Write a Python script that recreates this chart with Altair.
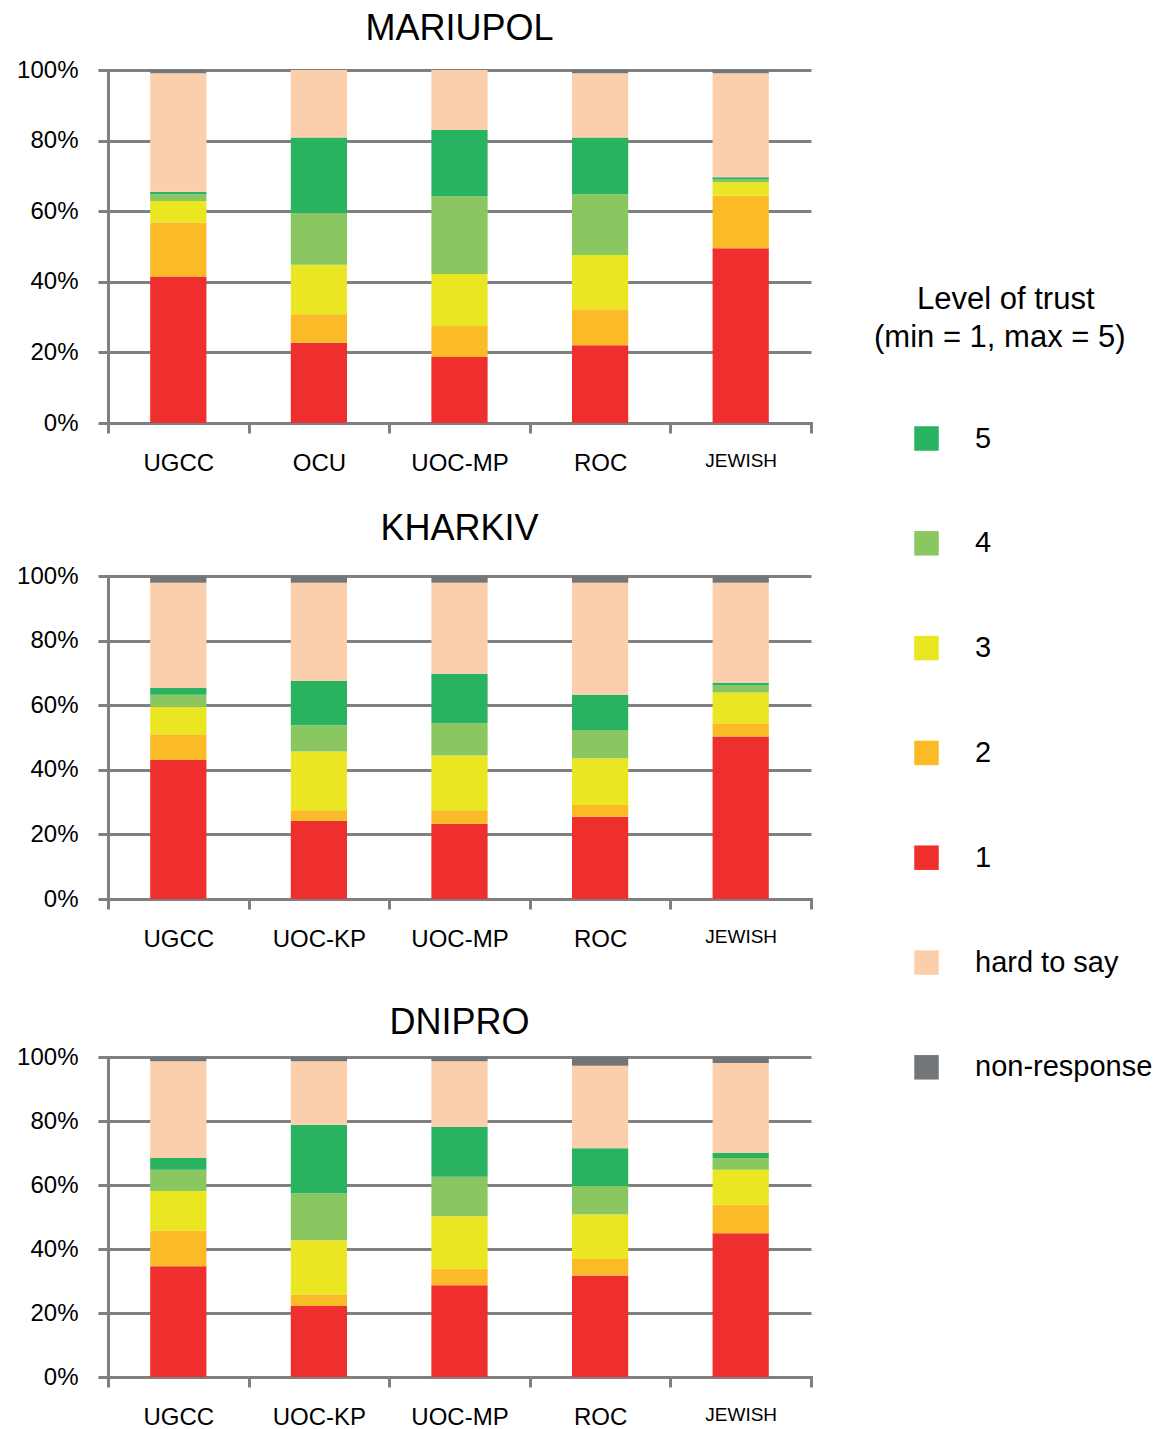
import altair as alt
import pandas as pd

# ---- data (percent) ----
levels = ["1", "2", "3", "4", "5", "hard to say", "non-response"]
legend_order = ["5", "4", "3", "2", "1", "hard to say", "non-response"]
legend_colors = ["#29B25F", "#8AC760", "#EAE622", "#FBBB26", "#EE2F2E", "#FBCFAC", "#737679"]

cities = ["MARIUPOL", "KHARKIV", "DNIPRO"]
mariupol_cats = ["UGCC", "OCU", "UOC-MP", "ROC", "JEWISH"]
kharkiv_cats = ["UGCC", "UOC-KP", "UOC-MP", "ROC", "JEWISH"]
dnipro_cats = ["UGCC", "UOC-KP", "UOC-MP", "ROC", "JEWISH"]

# each list: values per category, in the order of the category list
mariupol_1 = [41.5, 22.7, 18.7, 22.0, 49.5]
mariupol_2 = [15.3, 8.1, 8.8, 10.2, 14.9]
mariupol_3 = [6.1, 14.0, 14.7, 15.4, 3.8]
mariupol_4 = [1.9, 14.7, 22.0, 17.2, 0.8]
mariupol_5 = [0.7, 21.4, 18.8, 16.1, 0.6]
mariupol_hts = [33.6, 19.1, 17.0, 18.2, 29.5]
mariupol_nr = [0.9, 0.0, 0.0, 0.9, 0.9]

kharkiv_1 = [43.0, 24.2, 23.3, 25.5, 50.3]
kharkiv_2 = [8.0, 3.3, 4.2, 3.6, 4.1]
kharkiv_3 = [8.5, 18.2, 16.9, 14.5, 9.5]
kharkiv_4 = [3.7, 8.1, 10.0, 8.6, 2.2]
kharkiv_5 = [2.1, 13.8, 15.3, 11.0, 0.8]
kharkiv_hts = [32.6, 30.3, 28.2, 34.7, 31.0]
kharkiv_nr = [2.1, 2.1, 2.1, 2.1, 2.1]

dnipro_1 = [34.6, 22.2, 28.7, 31.7, 44.9]
dnipro_2 = [11.1, 3.6, 5.1, 5.2, 8.9]
dnipro_3 = [12.4, 16.9, 16.4, 13.9, 11.0]
dnipro_4 = [6.7, 14.7, 12.4, 8.9, 3.6]
dnipro_5 = [3.6, 21.4, 15.5, 11.8, 1.6]
dnipro_hts = [30.3, 19.9, 20.6, 25.8, 28.1]
dnipro_nr = [1.3, 1.3, 1.3, 2.7, 1.9]

y_ticks = [0, 20, 40, 60, 80, 100]

city_data = {
    "MARIUPOL": (mariupol_cats, [mariupol_1, mariupol_2, mariupol_3, mariupol_4, mariupol_5, mariupol_hts, mariupol_nr]),
    "KHARKIV": (kharkiv_cats, [kharkiv_1, kharkiv_2, kharkiv_3, kharkiv_4, kharkiv_5, kharkiv_hts, kharkiv_nr]),
    "DNIPRO": (dnipro_cats, [dnipro_1, dnipro_2, dnipro_3, dnipro_4, dnipro_5, dnipro_hts, dnipro_nr]),
}

FONT = "Liberation Sans"
GRID = "#808080"
heights = {"MARIUPOL": 353, "KHARKIV": 323, "DNIPRO": 320}
title_offsets = {"MARIUPOL": 10, "KHARKIV": 16, "DNIPRO": 3}
LEGEND_TITLE = ["\u200b" + "\u00a0" * 5 + "Level of trust", "(min = 1, max = 5)"]


def panel(city):
    cats, series = city_data[city]
    rows = []
    for li, (lvl, vals) in enumerate(zip(levels, series)):
        for c, v in zip(cats, vals):
            rows.append({"cat": c, "level": lvl, "ord": li, "value": v})
    df = pd.DataFrame(rows)
    return alt.Chart(df).mark_bar(width=alt.RelativeBandSize(0.4)).encode(
        x=alt.X("cat:N", sort=cats, title=None,
                scale=alt.Scale(paddingInner=0, paddingOuter=0),
                axis=alt.Axis(labelAngle=0, tickBand="extent", tickSize=10,
                              tickColor=GRID, tickWidth=3, domainColor=GRID,
                              domainWidth=3, labelPadding=18, labelColor="black",
                              labelFont=FONT,
                              labelFontSize={"condition": {"test": "datum.value == 'JEWISH'", "value": 19}, "value": 24},
                              grid=False)),
        y=alt.Y("value:Q", stack="zero", title=None,
                scale=alt.Scale(domain=[0, 100], nice=False),
                axis=alt.Axis(values=y_ticks, labelExpr="datum.value + '%'",
                              tickSize=10, tickColor=GRID, tickWidth=3,
                              domainColor=GRID, domainWidth=3, gridColor=GRID,
                              gridWidth=3, grid=True, labelPadding=20,
                              labelFont=FONT, labelFontSize=24, labelColor="black")),
        color=alt.Color("level:N",
                        scale=alt.Scale(domain=legend_order, range=legend_colors),
                        legend=alt.Legend(
                            title=LEGEND_TITLE,
                            orient="none", legendX=766, legendY=215,
                            titleFont=FONT, titleFontSize=31, titleFontWeight="normal",
                            titleColor="black", titleLineHeight=38, titleAnchor="start",
                            titleAlign="left", titlePadding=70, titleLimit=400,
                            symbolType="square", symbolSize=600, symbolStrokeWidth=0,
                            symbolOffset=38, labelOffset=34,
                            labelFont=FONT, labelFontSize=29, labelColor="black",
                            rowPadding=74.8, labelLimit=300)),
        order=alt.Order("ord:Q", sort="ascending"),
    ).properties(
        width=703, height=heights[city],
        title=alt.TitleParams(city, fontSize=36, font=FONT, fontWeight="normal",
                              color="black", anchor="middle", offset=title_offsets[city]),
    )


p1, p2, p3 = [panel(c) for c in cities]
chart = alt.vconcat(alt.vconcat(p1, p2, spacing=36), p3, spacing=54).properties(
    padding={"left": 16, "top": 11, "right": 0, "bottom": 0}
).configure_view(stroke=None).configure_axis(
    domainCap="square"
)

chart.save("out.html", embed_options={"renderer": "svg", "actions": False})
